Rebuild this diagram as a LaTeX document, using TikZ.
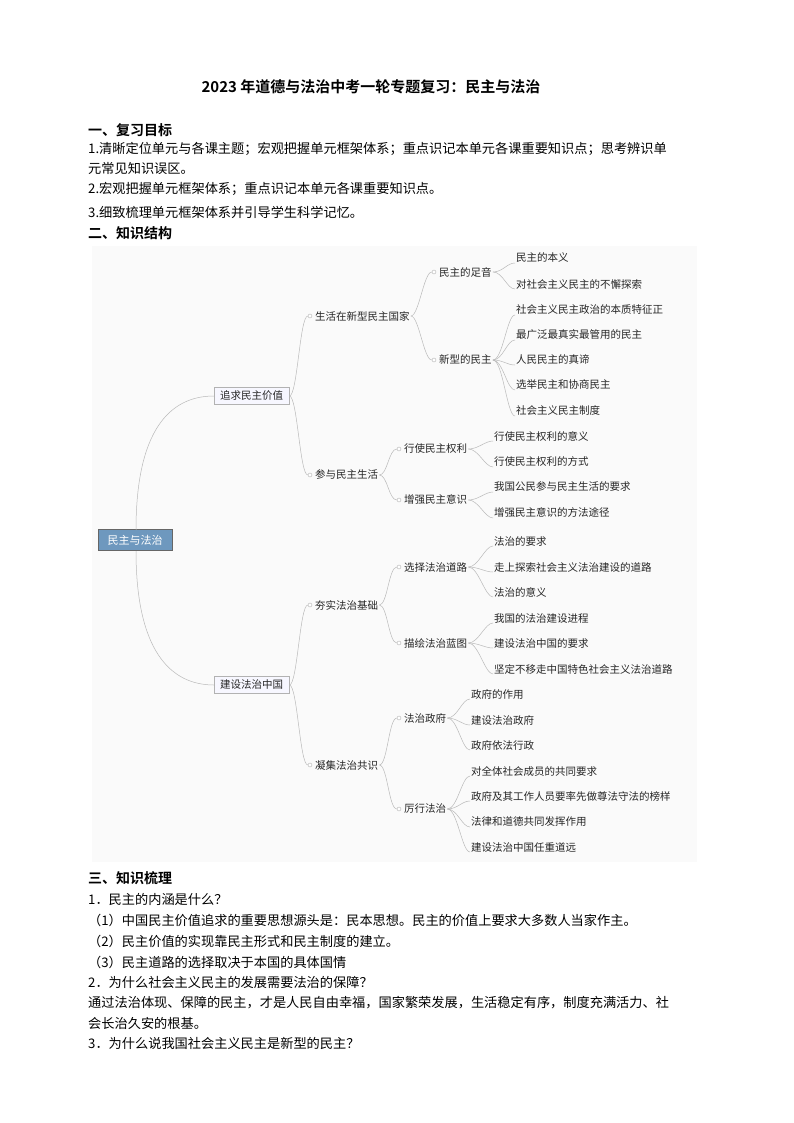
\documentclass[tikz,border=0pt]{standalone}
\usepackage{fontspec}
\setmainfont{Noto Sans CJK SC}
\newfontfamily\cjkb{Noto Sans CJK SC Bold}
\begin{document}
\begin{tikzpicture}[x=1pt,y=-1pt,
  txt/.style={anchor=west,inner sep=0pt,font=\fontsize{13.2}{14}\selectfont},
  hd/.style={anchor=west,inner sep=0pt,font=\cjkb\fontsize{14}{15}\selectfont},
  mm/.style={anchor=west,inner sep=1pt,font=\fontsize{10.5}{11}\selectfont,text=black!85},
  lvone/.style={mm,draw=gray!60,fill=blue!3,minimum height=17pt,inner xsep=6pt},
  rootbox/.style={anchor=west,draw=black!60,fill={rgb,255:red,110;green,152;blue,190},text=white,minimum width=74pt,minimum height=21pt,font=\fontsize{11}{12}\selectfont,inner sep=1pt},
  conn/.style={draw=gray!55,line width=0.5pt},
  dot/.style={circle,draw=gray!60,fill=white,inner sep=0pt,minimum size=4pt}]
\useasboundingbox (0,0) rectangle (794,1123);
\fill[white] (0,0) rectangle (794,1123);
% text
\node[anchor=center,inner sep=0pt,font=\cjkb\fontsize{15}{16}\selectfont] (title) at (371,87) {2023 年道德与法治中考一轮专题复习：民主与法治};
\node[hd] (h1) at (88,130) {一、复习目标};
\node[txt] (t1) at (88,149) {1.清晰定位单元与各课主题；宏观把握单元框架体系；重点识记本单元各课重要知识点；思考辨识单};
\node[txt] (t1b) at (88,168) {元常见知识误区。};
\node[txt] (t2) at (88,189) {2.宏观把握单元框架体系；重点识记本单元各课重要知识点。};
\node[txt] (t3) at (88,212) {3.细致梳理单元框架体系并引导学生科学记忆。};
\node[hd] (h2) at (88,233) {二、知识结构};
% map background
\fill[gray!4] (92,246) rectangle (697,862);
% root
\node[rootbox] (root) at (98,540) {民主与法治};
\node[lvone] (a) at (214,396) {追求民主价值};
\node[lvone] (b) at (214,685) {建设法治中国};
\draw[conn] (136,530) .. controls (136,430) and (170,396) .. (a.west);
\draw[conn] (136,551) .. controls (136,650) and (170,685) .. (b.west);
% level2
\foreach \n/\x/\y/\t in {a1/314/316/生活在新型民主国家, a2/314/475/参与民主生活, b1/314/605/夯实法治基础, b2/314/765/凝集法治共识,
  c1/438/272/民主的足音, c2/438/360/新型的民主, d1/403/449/行使民主权利, d2/403/500/增强民主意识,
  e1/403/567/选择法治道路, e2/403/643/描绘法治蓝图, f1/403/718/法治政府, f2/403/809/厉行法治}{
  \node[mm] (\n) at (\x,\y) {\t};
  \node[dot] (\n d) at (\x-4,\y) {};
}
\foreach \p/\c in {a/a1,a/a2,b/b1,b/b2,a1/c1,a1/c2,a2/d1,a2/d2,b1/e1,b1/e2,b2/f1,b2/f2}{
  \draw[conn] (\p.east) .. controls +(8,0) and +(-8,0) .. (\c d.west);
}
% leaves
\foreach \p/\x/\y/\t in {c1/515/258/民主的本义, c1/515/284/对社会主义民主的不懈探索,
  c2/515/310/社会主义民主政治的本质特征正, c2/515/335/最广泛最真实最管用的民主, c2/515/360/人民民主的真谛, c2/515/385/选举民主和协商民主, c2/515/411/社会主义民主制度,
  d1/493/436/行使民主权利的意义, d1/493/462/行使民主权利的方式,
  d2/493/487/我国公民参与民主生活的要求, d2/493/513/增强民主意识的方法途径,
  e1/493/541/法治的要求, e1/493/567/走上探索社会主义法治建设的道路, e1/493/592/法治的意义,
  e2/493/618/我国的法治建设进程, e2/493/643/建设法治中国的要求, e2/493/669/坚定不移走中国特色社会主义法治道路,
  f1/470/694/政府的作用, f1/470/720/建设法治政府, f1/470/745/政府依法行政,
  f2/470/771/对全体社会成员的共同要求, f2/470/796/政府及其工作人员要率先做尊法守法的榜样, f2/470/822/法律和道德共同发挥作用, f2/470/847/建设法治中国任重道远}{
  \node[mm] (L) at (\x,\y) {\t};
  \draw[conn] (\p.east) .. controls +(10,0) and +(-8,0) .. ([yshift=-5pt]L.west);
}
% section 3
\node[hd] (h3) at (88,878) {三、知识梳理};
\node[txt] (q1) at (88,899) {1．民主的内涵是什么？};
\node[txt] (q1a) at (88,920) {（1）中国民主价值追求的重要思想源头是：民本思想。民主的价值上要求大多数人当家作主。};
\node[txt] (q1b) at (88,941) {（2）民主价值的实现靠民主形式和民主制度的建立。};
\node[txt] (q1c) at (88,962) {（3）民主道路的选择取决于本国的具体国情};
\node[txt] (q2) at (88,982) {2．为什么社会主义民主的发展需要法治的保障？};
\node[txt] (q2a) at (88,1003) {通过法治体现、保障的民主，才是人民自由幸福，国家繁荣发展，生活稳定有序，制度充满活力、社};
\node[txt] (q2b) at (88,1023) {会长治久安的根基。};
\node[txt] (q3) at (88,1043) {3．为什么说我国社会主义民主是新型的民主？};
\end{tikzpicture}
\end{document}
